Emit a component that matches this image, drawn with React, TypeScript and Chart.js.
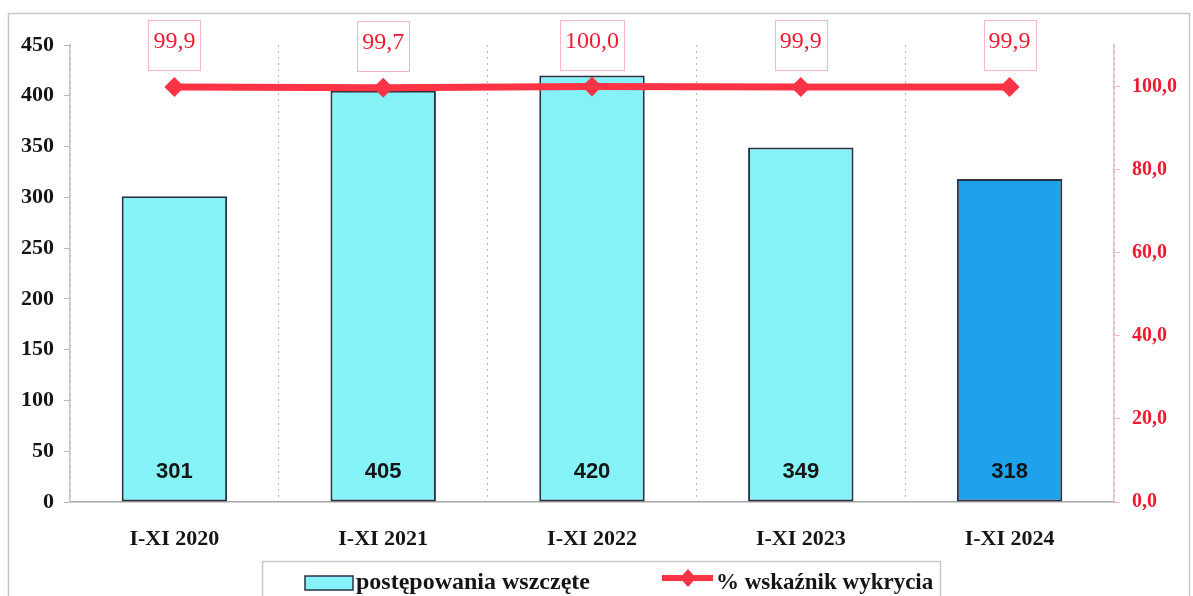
import { useEffect, useRef } from "react";
import { Chart, registerables } from "chart.js";

Chart.register(...registerables);

const categories = ["I-XI 2020", "I-XI 2021", "I-XI 2022", "I-XI 2023", "I-XI 2024"];
const proceedings = [301, 405, 420, 349, 318];
const detectionRate = [99.9, 99.7, 100.0, 99.9, 99.9];
const leftTicks = { min: 0, max: 450, step: 50 };
const rightTicks = { min: 0, max: 110, step: 20 };
const seriesNames = ["postępowania wszczęte", "% wskaźnik wykrycia"];
const barColors = ["#84F2F6", "#84F2F6", "#84F2F6", "#84F2F6", "#1FA2EC"];

const SERIF = "'Liberation Serif', 'Times New Roman', serif";
const SANS = "'Liberation Sans', Arial, sans-serif";
const RED = "#FF3346";
const RED_TEXT = "#EE1A30";
const PINK = "#F6B6C8";

const fmt = (v: number) => v.toFixed(1).replace(".", ",");

const decorations = {
  id: "decorations",
  afterDraw(chart: any) {
    const ctx = chart.ctx as CanvasRenderingContext2D;
    ctx.save();
    // outer frame
    ctx.strokeStyle = "#C8C8C8";
    ctx.lineWidth = 1.5;
    ctx.strokeRect(8.5, 13.5, 1181, 600);

    // bar value labels
    const barMeta = chart.getDatasetMeta(1);
    const yScale = chart.scales.y;
    ctx.font = `bold 22px ${SANS}`;
    ctx.fillStyle = "#151515";
    ctx.textAlign = "center";
    ctx.textBaseline = "middle";
    barMeta.data.forEach((bar: any, i: number) => {
      ctx.fillText(String(proceedings[i]), bar.x, yScale.getPixelForValue(0) - 30);
    });

    // line value labels with boxes
    const lineMeta = chart.getDatasetMeta(0);
    ctx.font = `24px ${SERIF}`;
    lineMeta.data.forEach((pt: any, i: number) => {
      const label = fmt(detectionRate[i]);
      const w = ctx.measureText(label).width + 10;
      const cy = pt.y - 42;
      ctx.strokeStyle = PINK;
      ctx.lineWidth = 1;
      ctx.strokeRect(Math.round(pt.x - w / 2) + 0.5, Math.round(cy - 25) + 0.5, Math.round(w), 50);
      ctx.fillStyle = RED_TEXT;
      ctx.fillText(label, pt.x, cy - 3);
    });

    // legend
    ctx.strokeStyle = "#C8C8C8";
    ctx.lineWidth = 1.5;
    ctx.strokeRect(262.5, 561.5, 678, 60);
    ctx.fillStyle = barColors[0];
    ctx.fillRect(305, 576, 48, 14);
    ctx.strokeStyle = "#2A3242";
    ctx.lineWidth = 1.5;
    ctx.strokeRect(305, 576, 48, 14);
    ctx.fillStyle = "#151515";
    ctx.font = `bold 24px ${SERIF}`;
    ctx.textAlign = "left";
    ctx.fillText(seriesNames[0], 356, 583);

    ctx.strokeStyle = RED;
    ctx.lineWidth = 6;
    ctx.beginPath();
    ctx.moveTo(662, 578);
    ctx.lineTo(713, 578);
    ctx.stroke();
    ctx.fillStyle = RED;
    ctx.beginPath();
    ctx.moveTo(688, 569);
    ctx.lineTo(696, 578);
    ctx.lineTo(688, 587);
    ctx.lineTo(680, 578);
    ctx.closePath();
    ctx.fill();
    ctx.fillStyle = "#151515";
    ctx.font = `bold 23px ${SERIF}`;
    ctx.fillText(seriesNames[1], 716, 583);
    ctx.restore();
  },
};

export default function App() {
  const ref = useRef<HTMLCanvasElement | null>(null);
  useEffect(() => {
    if (!ref.current) return;
    const chart = new Chart(ref.current, {
      type: "bar",
      data: {
        labels: categories,
        datasets: [
          {
            type: "line",
            label: seriesNames[1],
            data: detectionRate,
            yAxisID: "y1",
            borderColor: RED,
            backgroundColor: RED,
            borderWidth: 7,
            pointStyle: "rectRot",
            pointRadius: 10,
            pointBorderWidth: 0,
            tension: 0,
            order: 0,
          } as any,
          {
            type: "bar",
            label: seriesNames[0],
            data: proceedings,
            yAxisID: "y",
            backgroundColor: barColors,
            borderColor: "#2A3242",
            borderWidth: 2,
            borderSkipped: false,
            categoryPercentage: 1,
            barPercentage: 0.505,
            order: 1,
          } as any,
        ],
      },
      options: {
        responsive: false,
        animation: false,
        layout: { padding: { top: 45, left: 0, right: 0, bottom: 0 } },
        plugins: { legend: { display: false }, tooltip: { enabled: false } },
        scales: {
          x: {
            grid: { offset: true, color: "#B8B8B8", drawTicks: false, lineWidth: 1 },
            border: { color: "#A8A8A8", dash: [2, 4], width: 1.5 },
            ticks: {
              color: "#151515",
              font: { family: SERIF, size: 22, weight: "bold" },
              padding: 24,
            },
            afterFit: (s: any) => {
              s.height = 94;
            },
          },
          y: {
            position: "left",
            min: leftTicks.min,
            max: leftTicks.max,
            ticks: {
              stepSize: leftTicks.step,
              color: "#151515",
              font: { family: SERIF, size: 22, weight: "bold" },
              padding: 10,
            },
            grid: { drawOnChartArea: false, drawTicks: true, tickLength: 6, color: "#B8B8B8" },
            border: { color: "#C4C4C4", width: 1.5 },
            afterFit: (s: any) => {
              s.width = 70;
            },
          },
          y1: {
            position: "right",
            min: rightTicks.min,
            max: rightTicks.max,
            ticks: {
              stepSize: rightTicks.step,
              color: RED_TEXT,
              font: { family: SERIF, size: 20, weight: "bold" },
              padding: 12,
              callback: (v: any) => fmt(Number(v)),
            },
            afterBuildTicks: (s: any) => {
              s.ticks = s.ticks.filter((t: any) => t.value <= 100);
            },
            grid: { drawOnChartArea: false, drawTicks: true, tickLength: 6, color: PINK },
            border: { color: PINK, width: 1.5 },
            afterFit: (s: any) => {
              s.width = 79;
            },
          },
        },
      } as any,
      plugins: [decorations],
    });
    return () => chart.destroy();
  }, []);
  return (
    <div style={{ position: "fixed", left: 0, top: 0, width: 1193, height: 596, background: "#fff" }}>
      <canvas ref={ref} width={1193} height={596} />
    </div>
  );
}
